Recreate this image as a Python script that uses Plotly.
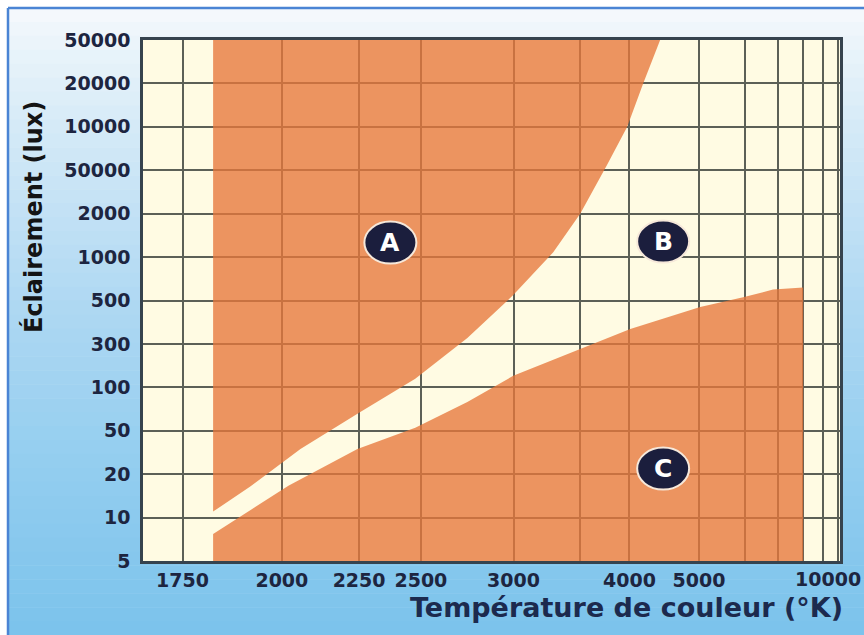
import numpy as np
import plotly.graph_objects as go

# ---------------- data ----------------
# y axis: evenly spaced illuminance levels (lux) and their printed labels
lux_levels = [5, 10, 20, 50, 100, 300, 500, 1000, 2000, 5000, 10000, 20000, 50000]
lux_labels = ["5", "10", "20", "50", "100", "300", "500", "1000", "2000",
              "50000", "10000", "20000", "50000"]

# x axis: colour temperature (K) on a reciprocal (mired) scale
temp_ticks = [1750, 2000, 2250, 2500, 3000, 3500, 4000, 5000, 6000, 7000, 8000, 9000, 10000]
temp_labels = ["1750", "2000", "2250", "2500", "3000", "", "4000", "5000", "", "", "", "", "10000"]
temp_min, temp_max = 1667, 10150

# Zone A (upper orange area): left edge and lower/right boundary
a_left_T = 1820
a_edge_T = [1820, 1914, 2055, 2247, 2475, 2728, 2998, 3281, 3504, 3759, 3975, 4165, 4388]
a_edge_lux = [11, 16.5, 34, 66, 124, 322, 545, 1080, 2000, 5450, 10000, 20000, 50000]

# Zone C (lower orange area): upper boundary, right edge
c_edge_T = [1820, 2019, 2244, 2475, 2728, 2998, 3504, 4010, 5022, 5945, 6817, 8000]
c_edge_lux = [7.7, 16.6, 34, 52.5, 79, 134, 262, 358, 463, 527, 595, 616]

# zone labels
zone_names = ["A", "B", "C"]
zone_T = [2370, 4430, 4430]
zone_lux = [1260, 1280, 22.5]


# ---------------- scales ----------------
def to_x(T):
    return 1e6 / np.asarray(T, dtype=float)


def to_y(lux):
    return np.interp(np.log10(np.asarray(lux, dtype=float)),
                     np.log10(lux_levels), np.arange(len(lux_levels)))


top_lux = lux_levels[-1]
bot_lux = lux_levels[0]

orange = "rgba(231,119,59,0.78)"
cream = "#fffbe3"

fig = go.Figure()

# Zone A polygon
ax = [a_left_T] + a_edge_T + [a_edge_T[-1]]
ay = [top_lux] + a_edge_lux + [top_lux]
fig.add_trace(go.Scatter(x=to_x(ax), y=to_y(ay), mode="lines", fill="toself",
                         fillcolor=orange, line=dict(width=0), hoverinfo="skip",
                         showlegend=False))

# Zone C polygon
cx = [c_edge_T[0]] + c_edge_T + [c_edge_T[-1]]
cy = [bot_lux] + c_edge_lux + [bot_lux]
fig.add_trace(go.Scatter(x=to_x(cx), y=to_y(cy), mode="lines", fill="toself",
                         fillcolor=orange, line=dict(width=0), hoverinfo="skip",
                         showlegend=False))

# ---------------- background (gradient + frame) ----------------
W, H = 864, 635
L, R, T, B = 143, 24, 40, 74
pw, ph = W - L - R, H - T - B


def px2paper_x(px):
    return (px - L) / pw


def py2paper_y(py):
    return (H - B - py) / ph


stops_py = [8, 40, 150, 300, 450, 635]
stops_rgb = np.array([[247, 250, 253], [236, 245, 251], [208, 232, 247],
                      [176, 217, 243], [150, 207, 240], [123, 195, 236]], dtype=float)

shapes = []
n = 45
edges = np.linspace(8, 635, n + 1)
for i in range(n):
    mid = 0.5 * (edges[i] + edges[i + 1])
    col = [np.interp(mid, stops_py, stops_rgb[:, k]) for k in range(3)]
    shapes.append(dict(type="rect", xref="paper", yref="paper", layer="below",
                       x0=px2paper_x(8), x1=px2paper_x(W + 2),
                       y0=py2paper_y(edges[i + 1] + 0.5), y1=py2paper_y(edges[i]),
                       fillcolor="rgb(%d,%d,%d)" % tuple(int(c) for c in col),
                       line=dict(width=0)))
# plot area cream background (above the gradient)
shapes.append(dict(type="rect", xref="paper", yref="paper", layer="below",
                   x0=0, x1=1, y0=0, y1=1, fillcolor=cream, line=dict(width=0)))
# frame lines (top, left)
shapes.append(dict(type="line", xref="paper", yref="paper", layer="below",
                   x0=px2paper_x(8), x1=px2paper_x(W + 2),
                   y0=py2paper_y(8), y1=py2paper_y(8),
                   line=dict(color="#4a84d4", width=2.5)))
shapes.append(dict(type="line", xref="paper", yref="paper", layer="below",
                   x0=px2paper_x(8), x1=px2paper_x(8),
                   y0=py2paper_y(8), y1=py2paper_y(H + 2),
                   line=dict(color="#4a84d4", width=2.5)))

# zone label ellipses
annotations = []
for name, t, l in zip(zone_names, zone_T, zone_lux):
    xx = float(to_x(t))
    yy = float(to_y(l))
    shapes.append(dict(type="circle", xref="x", yref="y", xsizemode="pixel",
                       ysizemode="pixel", xanchor=xx, yanchor=yy,
                       x0=-26, x1=26, y0=-21, y1=21, layer="above",
                       fillcolor="#1b1e3d", line=dict(color="#f6e8da", width=2)))
    annotations.append(dict(x=xx, y=yy, xref="x", yref="y", text=name,
                            showarrow=False,
                            font=dict(family="DejaVu Sans", size=25, color="white",
                                      weight="bold")))

tickfont = dict(family="DejaVu Sans", size=19, color="#1d2540", weight="bold")

# the last x tick label sits on the figure's right edge: keep it fully visible
axis_ticktext = list(temp_labels)
edge_label = axis_ticktext[-1]
axis_ticktext[-1] = ""
annotations.append(dict(x=px2paper_x(863), y=py2paper_y(579), xref="paper", yref="paper",
                        xanchor="right", yanchor="middle", showarrow=False,
                        text=edge_label, font=tickfont))

# axis titles
annotations.append(dict(x=px2paper_x(845), y=py2paper_y(607), xref="paper", yref="paper",
                        xanchor="right", yanchor="middle", showarrow=False,
                        text="Température de couleur (°K)",
                        font=dict(family="DejaVu Sans", size=27, color="#1c2a4e",
                                  weight="bold")))
annotations.append(dict(x=px2paper_x(33), y=py2paper_y(217), xref="paper", yref="paper",
                        xanchor="center", yanchor="middle", showarrow=False,
                        textangle=-90, text="Éclairement (lux)",
                        font=dict(family="DejaVu Sans", size=24, color="#141414",
                                  weight="bold")))

fig.update_layout(
    width=W, height=H,
    margin=dict(l=L, r=R, t=T, b=B, autoexpand=False),
    paper_bgcolor="white",
    plot_bgcolor=cream,
    shapes=shapes,
    annotations=annotations,
    showlegend=False,
    xaxis=dict(range=[1e6 / temp_min, 1e6 / temp_max],
               tickvals=to_x(temp_ticks), ticktext=axis_ticktext,
               showgrid=True, gridcolor="#5c6057", gridwidth=1.6,
               zeroline=False, showline=True, mirror=True,
               linecolor="#36434e", linewidth=2.5, ticks="",
               tickfont=tickfont, ticklabelstandoff=0,
               automargin=False),
    yaxis=dict(range=[0, len(lux_levels) - 1],
               tickvals=list(range(len(lux_levels))), ticktext=lux_labels,
               showgrid=True, gridcolor="#5c6057", gridwidth=1.6,
               zeroline=False, showline=True, mirror=True,
               linecolor="#36434e", linewidth=2.5, ticks="",
               tickfont=tickfont, ticklabelstandoff=6,
               automargin=False),
)

fig.write_html("out.html",
               config={"displayModeBar": False},
               post_script="document.body.style.margin='0';"
                           "document.body.style.overflow='hidden';")
